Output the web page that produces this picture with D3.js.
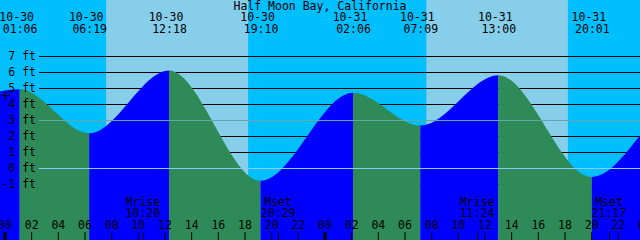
<!DOCTYPE html>
<html>
<head>
<meta charset="utf-8">
<script src="https://cdn.jsdelivr.net/npm/d3@7"></script>
<style>
  html, body { margin: 0; padding: 0; background: #00bfff; }
  svg { display: block; }
  text { font-family: "DejaVu Sans Mono", monospace; font-size: 11.5px; fill: #000; }
</style>
</head>
<body>
<svg id="chart" width="640" height="240"></svg>
<script>
// station and data
const title = "Half Moon Bay, California";

const tideTimes = ["2024-10-30T01:06", "2024-10-30T06:19", "2024-10-30T12:18", "2024-10-30T19:10",
                   "2024-10-31T02:06", "2024-10-31T07:09", "2024-10-31T13:00", "2024-10-31T20:01"];
const tideHeights = [4.92, 2.17, 6.1, -0.8, 4.7, 2.65, 5.8, -0.56];

// level of the curve where it meets the left and right borders
const edgeTimes = ["2024-10-29T23:37", "2024-10-31T23:38"];
const edgeHeights = [4.8, 2.05];

const sunriseTimes = ["2024-10-30T07:35", "2024-10-31T07:36"];
const sunsetTimes = ["2024-10-30T18:14", "2024-10-31T18:13"];

const moonLabels = ["Mrise", "Mset", "Mrise", "Mset"];
const moonTimes = ["2024-10-30T10:20", "2024-10-30T20:29", "2024-10-31T11:24", "2024-10-31T21:17"];

const feetTicks = [-1, 0, 1, 2, 3, 4, 5, 6, 7];
const datumLines = [0, 3];

const width = 640, height = 240;
const parse = d3.utcParse("%Y-%m-%dT%H:%M");
const fmtDate = d3.utcFormat("%m-%d");
const fmtTime = d3.utcFormat("%H:%M");

const start = parse("2024-10-30T00:00");
const end = parse("2024-11-01T00:00");

const x = d3.scaleUtc().domain([start, end]).range([5, 645]);
const y = d3.scaleLinear().domain([-1, 7]).range([184, 56]);

const svg = d3.select('#chart');

// sky: night everywhere, day between sunrise and sunset
svg.append('rect')
  .attr('width', width).attr('height', height)
  .style('fill', '#00bfff');

svg.selectAll('.day')
  .data(sunriseTimes.map((d, i) => [parse(d), parse(sunsetTimes[i])]))
  .enter()
  .append('rect')
  .attr('class', 'day')
  .attr('x', d => x(d[0]))
  .attr('y', 0)
  .attr('width', d => x(d[1]) - x(d[0]))
  .attr('height', height)
  .style('fill', '#87ceeb');

// foot grid, behind the water
svg.selectAll('.grid')
  .data(feetTicks)
  .enter()
  .append('line')
  .attr('class', 'grid')
  .attr('x1', 39).attr('x2', width)
  .attr('y1', d => y(d)).attr('y2', d => y(d))
  .style('stroke', 'black')
  .style('shape-rendering', 'crispEdges');

// tide curve
const points = tideTimes.map((t, i) => ({t: parse(t), h: tideHeights[i]}))
  .concat(edgeTimes.map((t, i) => ({t: parse(t), h: edgeHeights[i]})))
  .sort((a, b) => a.t - b.t);

const area = d3.area()
  .x(d => x(d.t))
  .y0(height)
  .y1(d => y(d.h))
  .curve(d3.curveMonotoneX);

svg.append('clipPath')
  .attr('id', 'water')
  .append('path')
  .attr('d', area(points));

// flood (rising) blue, ebb (falling) green
const segments = d3.pairs(points);
svg.append('g')
  .attr('clip-path', 'url(#water)')
  .selectAll('rect')
  .data(segments)
  .enter()
  .append('rect')
  .attr('x', (d, i) => i === 0 ? 0 : x(d[0].t))
  .attr('y', 0)
  .attr('width', (d, i) => (i === segments.length - 1 ? width : x(d[1].t)) - (i === 0 ? 0 : x(d[0].t)))
  .attr('height', height)
  .style('fill', d => d[1].h > d[0].h ? '#0000ff' : '#2e8b57');

// datum and mean level lines on top
svg.selectAll('.datum')
  .data(datumLines)
  .enter()
  .append('line')
  .attr('class', 'datum')
  .attr('x1', 39).attr('x2', width)
  .attr('y1', d => y(d)).attr('y2', d => y(d))
  .style('stroke', d => d === 0 ? '#87cefa' : '#62a8a6')
  .style('shape-rendering', 'crispEdges');

// foot labels
svg.selectAll('.ylabel')
  .data(feetTicks)
  .enter()
  .append('text')
  .attr('class', 'ylabel')
  .attr('x', 36)
  .attr('y', d => y(d) + 4)
  .style('text-anchor', 'end')
  .text(d => d + ' ft');

// marker at the left border
svg.append('path')
  .attr('d', 'M1,95.5H10M5.5,91V100')
  .style('stroke', 'black')
  .style('stroke-width', 1.2);

// title
svg.append('text')
  .attr('x', width / 2)
  .attr('y', 10)
  .style('text-anchor', 'middle')
  .text(title);

// high/low times along the top
const tides = tideTimes.map(parse);
svg.selectAll('.tdate')
  .data(tides)
  .enter()
  .append('text')
  .attr('class', 'tdate')
  .attr('x', d => x(d) - 3)
  .attr('y', 21)
  .style('text-anchor', 'middle')
  .text(d => fmtDate(d).replace(/^0/, '') === '10-30' ? fmtDate(d) : fmtDate(d));

svg.selectAll('.ttime')
  .data(tides)
  .enter()
  .append('text')
  .attr('class', 'ttime')
  .attr('x', d => x(d) + 0.5)
  .attr('y', 33)
  .style('text-anchor', 'middle')
  .text(d => fmtTime(d));

// hour axis along the bottom
const hours = d3.utcHour.every(2).range(start, d3.utcHour.offset(end, 1));
svg.selectAll('.hlabel')
  .data(hours)
  .enter()
  .append('text')
  .attr('class', 'hlabel')
  .attr('x', d => x(d))
  .attr('y', 229)
  .style('text-anchor', 'middle')
  .text(d => d3.utcFormat('%H')(d));

svg.selectAll('.htick')
  .data(hours)
  .enter()
  .append('line')
  .attr('class', 'htick')
  .attr('x1', d => x(d)).attr('x2', d => x(d))
  .attr('y1', 232).attr('y2', height)
  .style('stroke', 'black')
  .style('stroke-width', d => d.getUTCHours() === 0 ? 3 : 1);

// moon rise / set
const moons = moonTimes.map((t, i) => ({t: parse(t), label: moonLabels[i]}));
svg.selectAll('.mtick')
  .data(moons)
  .enter()
  .append('line')
  .attr('class', 'mtick')
  .attr('x1', d => Math.round(x(d.t)) + 0.5).attr('x2', d => Math.round(x(d.t)) + 0.5)
  .attr('y1', 232).attr('y2', height)
  .style('stroke', 'black');

svg.selectAll('.mlabel')
  .data(moons)
  .enter()
  .append('text')
  .attr('class', 'mlabel')
  .attr('x', d => x(d.t))
  .attr('y', 206)
  .style('text-anchor', 'middle')
  .text(d => d.label);

svg.selectAll('.mtime')
  .data(moons)
  .enter()
  .append('text')
  .attr('class', 'mtime')
  .attr('x', d => x(d.t))
  .attr('y', 217)
  .style('text-anchor', 'middle')
  .text(d => fmtTime(d.t));
</script>
</body>
</html>
